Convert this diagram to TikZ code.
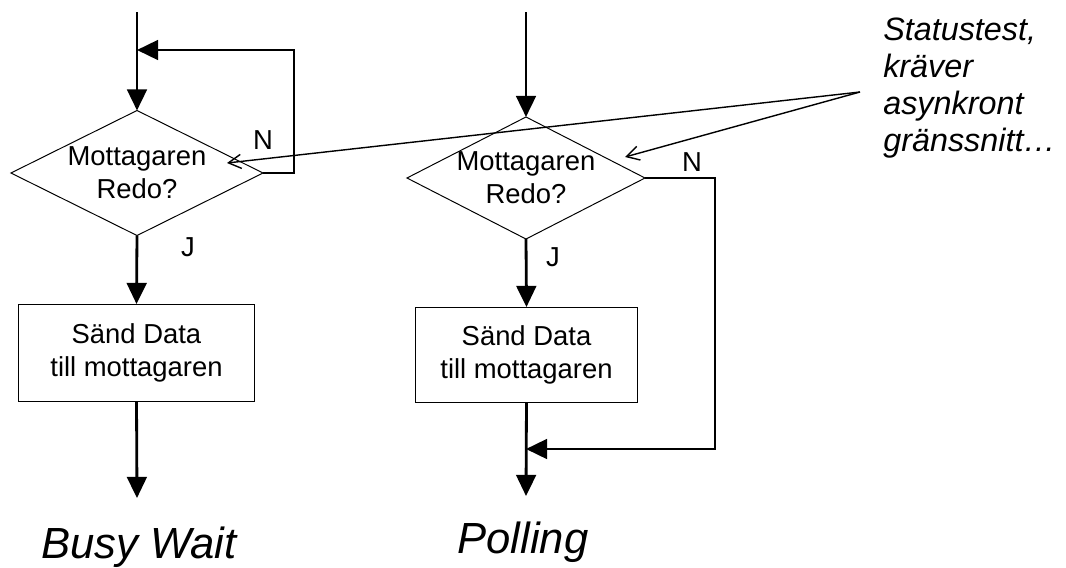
\documentclass[tikz,border=0pt]{standalone}
\usepackage{fontspec}
\setmainfont{Liberation Sans}
\usetikzlibrary{shapes.geometric,arrows.meta}

\begin{document}
\begin{tikzpicture}[x=0.025cm,y=-0.025cm]

	%DEFINITIONER
	\tikzstyle{every node}=[font=\fontsize{19.5}{23.5}\selectfont]
	\tikzstyle{beslut} = [draw, diamond, line width=0.7pt, inner sep=0pt, outer sep=0pt]
	\tikzstyle{ruta} = [draw, align=center, line width=0.7pt, outer sep=0pt]
	\tikzstyle{blank} = [align=center, inner sep=0pt, outer sep=0pt]
	\tikzstyle{pil} = [-{Triangle[length=15pt,width=14pt]}, line width=2pt]
	\tikzstyle{visare} = [-{Straight Barb[length=9pt,width=10pt]}, line width=1pt]
	\tikzstyle{rubrik} = [blank, font=\fontsize{31}{36}\selectfont\itshape]

	\useasboundingbox (0,0) rectangle (1066,567);

	%BLOCK
	\draw(137,173) node[beslut, minimum width=6.3cm, minimum height=3.125cm](d1){};
	\draw(d1) node[blank](td1){Mottagaren\\Redo?};
	\draw(136.5,352.5) node[ruta, minimum width=5.875cm, minimum height=2.425cm](b1){Sänd Data\\till mottagaren};

	\draw(526,178) node[beslut, minimum width=5.95cm, minimum height=3.05cm](d2){};
	\draw(d2) node[blank](td2){Mottagaren\\Redo?};
	\draw(526.5,354.5) node[ruta, minimum width=5.525cm, minimum height=2.375cm](b2){Sänd Data\\till mottagaren};

	\draw(883,88) node[anchor=west, align=left, inner sep=0pt, font=\fontsize{23}{26.5}\selectfont\itshape](note){Statustest,\\kräver\\asynkront\\gränssnitt…};

	\draw(139,558) node[rubrik, anchor=base](r1){Busy Wait};
	\draw(523,553) node[rubrik, anchor=base](r2){Polling};

	\draw(263,140) node[blank](n1){N};
	\draw(188,247) node[blank](j1){J};
	\draw(692,162) node[blank](n2){N};
	\draw(553,257) node[blank](j2){J};

	%PUNKTER
	\coordinate (s1) at (137,12);
	\coordinate (m1) at (137,50);
	\coordinate (e1) at (137,498);
	\coordinate (s2) at (526,12);
	\coordinate (m2) at (526,449);
	\coordinate (e2) at (526,496);
	\coordinate (k) at (860,92);
	\coordinate (t1) at (227,163);
	\coordinate (t2) at (625,157);

	%PILAR
	\draw [pil] (s1) -- (d1.north);
	\draw [pil] (d1.east) -- (294,173) -- (294,50) -- (m1);
	\draw [pil] (d1.south) -- (b1.north);
	\draw [pil] (b1.south) -- (e1);

	\draw [pil] (s2) -- (d2.north);
	\draw [pil] (d2.east) -- (715,178) -- (715,449) -- (m2);
	\draw [pil] (d2.south) -- (b2.north);
	\draw [pil] (b2.south) -- (e2);

	\draw [visare] (k) -- (t1);
	\draw [visare] (k) -- (t2);
\end{tikzpicture}
\end{document}
